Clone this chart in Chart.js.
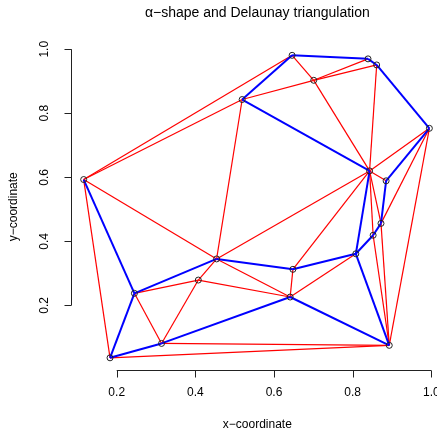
<!DOCTYPE html>
<html>
<head>
<meta charset="utf-8">
<script src="https://cdn.jsdelivr.net/npm/chart.js@4.4.1/dist/chart.umd.min.js"></script>
<style>
    html, body { margin: 0; padding: 0; background: #ffffff; }
    #wrap { width: 437px; height: 434px; position: relative; }
</style>
</head>
<body>
<div id="wrap"><canvas id="alphaChart" width="437" height="434"></canvas></div>
<script>
// sample points
var pointX = [ 0.116, 0.519, 0.646, 0.839, 0.861, 0.701, 0.995, 0.843, 0.885, 0.872,
               0.852, 0.808, 0.893, 0.648, 0.641, 0.454, 0.4075, 0.245, 0.314, 0.183 ];
var pointY = [ 0.593, 0.843, 0.981, 0.970, 0.951, 0.903, 0.753, 0.620, 0.589, 0.456,
               0.419, 0.361, 0.075, 0.3125, 0.226, 0.345, 0.279, 0.2375, 0.081, 0.036 ];

// Delaunay edges (index pairs into the point arrays)
var delaunayEdges = [
    [ 0, 2 ], [ 0, 1 ], [ 0, 15 ], [ 0, 19 ], [ 1, 5 ], [ 1, 15 ], [ 2, 5 ], [ 3, 5 ],
    [ 4, 5 ], [ 4, 7 ], [ 5, 7 ], [ 6, 7 ], [ 7, 8 ], [ 7, 9 ], [ 7, 10 ], [ 6, 9 ],
    [ 6, 12 ], [ 9, 12 ], [ 10, 12 ], [ 7, 15 ], [ 7, 13 ], [ 17, 16 ], [ 17, 18 ],
    [ 16, 15 ], [ 16, 18 ], [ 16, 14 ], [ 15, 14 ], [ 13, 14 ], [ 14, 11 ], [ 18, 12 ],
    [ 19, 12 ]
];

// alpha-shape edges
var alphaEdges = [
    [ 1, 2 ], [ 2, 3 ], [ 3, 4 ], [ 4, 6 ], [ 6, 8 ], [ 8, 9 ], [ 9, 10 ], [ 10, 11 ],
    [ 11, 7 ], [ 7, 1 ], [ 11, 13 ], [ 13, 15 ], [ 15, 17 ], [ 17, 0 ], [ 17, 19 ],
    [ 19, 18 ], [ 18, 14 ], [ 14, 12 ], [ 12, 11 ]
];

var tickValues = [ 0.2, 0.4, 0.6, 0.8, 1.0 ];
var tickLabels = [ '0.2', '0.4', '0.6', '0.8', '1.0' ];

var chartTitle = '\u03b1\u2212shape and Delaunay triangulation';
var xTitle = 'x\u2212coordinate';
var yTitle = 'y\u2212coordinate';

function edgeDatasets ( edges, color, width, order )
{
    return edges.map( function ( e )
    {
        return {
            type: 'line',
            data: [ { x: pointX[ e[ 0 ] ], y: pointY[ e[ 0 ] ] }, { x: pointX[ e[ 1 ] ], y: pointY[ e[ 1 ] ] } ],
            borderColor: color,
            borderWidth: width,
            pointRadius: 0,
            fill: false,
            tension: 0,
            order: order
        };
    } );
}

// R style axes, title and labels
var rAxesPlugin = {
    id: 'rAxes',
    afterDraw: function ( chart )
    {
        var ctx = chart.ctx;
        var xs = chart.scales.x;
        var ys = chart.scales.y;
        var area = chart.chartArea;
        var font = '"Liberation Sans", Arial, Helvetica, sans-serif';

        ctx.save();
        ctx.strokeStyle = '#222';
        ctx.lineWidth = 1;
        ctx.fillStyle = '#000';

        // x axis
        var yb = Math.round( area.bottom ) + 0.5;
        var x0 = xs.getPixelForValue( tickValues[ 0 ] );
        var x1 = xs.getPixelForValue( tickValues[ tickValues.length - 1 ] );
        ctx.beginPath();
        ctx.moveTo( x0, yb );
        ctx.lineTo( x1, yb );
        tickValues.forEach( function ( v )
        {
            var px = Math.round( xs.getPixelForValue( v ) ) + 0.5;
            ctx.moveTo( px, yb );
            ctx.lineTo( px, yb + 7 );
        } );
        ctx.stroke();

        ctx.font = '12px ' + font;
        ctx.textAlign = 'center';
        ctx.textBaseline = 'middle';
        tickValues.forEach( function ( v, i )
        {
            ctx.fillText( tickLabels[ i ], xs.getPixelForValue( v ), 393 );
        } );

        // y axis
        var xl = Math.round( area.left ) + 0.5;
        var y0 = ys.getPixelForValue( tickValues[ 0 ] );
        var y1 = ys.getPixelForValue( tickValues[ tickValues.length - 1 ] );
        ctx.beginPath();
        ctx.moveTo( xl, y0 );
        ctx.lineTo( xl, y1 );
        tickValues.forEach( function ( v )
        {
            var py = Math.round( ys.getPixelForValue( v ) ) + 0.5;
            ctx.moveTo( xl, py );
            ctx.lineTo( xl - 7, py );
        } );
        ctx.stroke();

        tickValues.forEach( function ( v, i )
        {
            ctx.save();
            ctx.translate( 45, ys.getPixelForValue( v ) );
            ctx.rotate( -Math.PI / 2 );
            ctx.fillText( tickLabels[ i ], 0, 0 );
            ctx.restore();
        } );

        // axis titles
        var cx = ( area.left + 444 ) / 2;
        ctx.fillText( xTitle, cx, 425 );
        ctx.save();
        ctx.translate( 14, ( area.top + area.bottom ) / 2 );
        ctx.rotate( -Math.PI / 2 );
        ctx.fillText( yTitle, 0, 0 );
        ctx.restore();

        // main title
        ctx.font = '14px ' + font;
        ctx.fillText( chartTitle, cx, 13 );
        ctx.restore();
    }
};

document.addEventListener( 'DOMContentLoaded', function ()
{
    var pointData = pointX.map( function ( x, i )
    {
        return { x: x, y: pointY[ i ] };
    } );

    var datasets = [ {
        type: 'scatter',
        data: pointData,
        pointStyle: 'circle',
        pointRadius: 3,
        pointBorderWidth: 1,
        pointBorderColor: '#222',
        pointBackgroundColor: 'rgba(0,0,0,0)',
        showLine: false,
        order: 0
    } ];
    datasets = datasets.concat( edgeDatasets( alphaEdges, '#0000ff', 2, 1 ) );
    datasets = datasets.concat( edgeDatasets( delaunayEdges, '#ff0000', 1.2, 2 ) );

    var canvas = document.getElementById( 'alphaChart' );
    new Chart( canvas.getContext( '2d' ), {
        type: 'scatter',
        data: { datasets: datasets },
        options: {
            responsive: false,
            animation: false,
            devicePixelRatio: 1,
            layout: {
                autoPadding: false,
                padding: { left: 70.7, right: 0, top: 43.5, bottom: 64 }
            },
            plugins: {
                legend: { display: false },
                tooltip: { enabled: false },
                title: { display: false }
            },
            scales: {
                x: { type: 'linear', min: 0.083, max: 1.0144, display: false },
                y: { type: 'linear', min: -0.002, max: 1.018, display: false }
            }
        },
        plugins: [ rAxesPlugin ]
    } );
} );
</script>
</body>
</html>
